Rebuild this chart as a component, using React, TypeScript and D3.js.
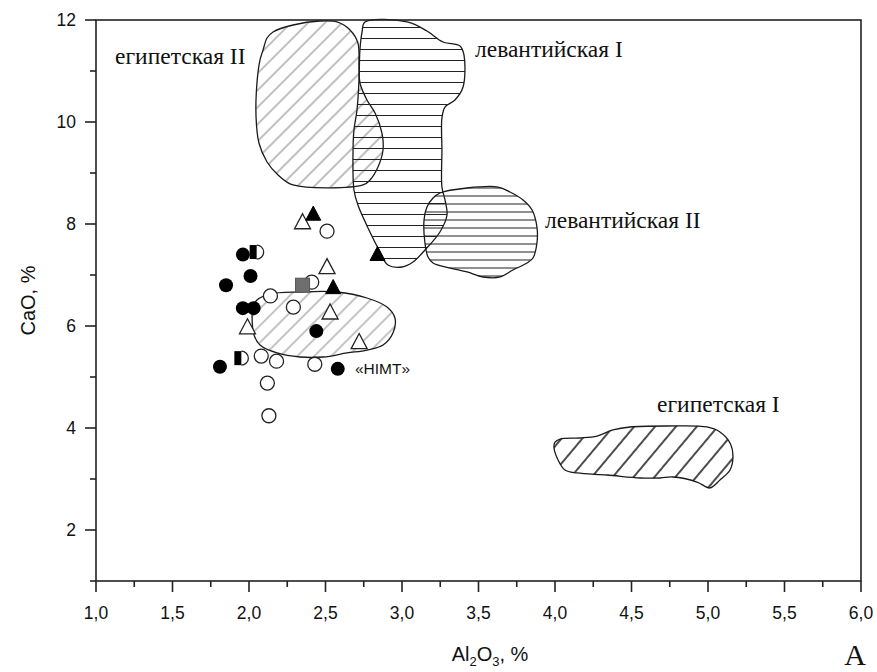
import { useEffect, useRef } from 'react';
import * as d3 from 'd3';

// point groups, [Al2O3, CaO]
const filledCircles = [[1.96, 7.40], [2.01, 6.98], [1.85, 6.80], [1.96, 6.35], [2.03, 6.35], [2.44, 5.90], [1.81, 5.20], [2.58, 5.16]];
const openCircles = [[2.51, 7.86], [2.41, 6.86], [2.14, 6.59], [2.29, 6.37], [2.08, 5.41], [2.18, 5.31], [2.43, 5.25], [2.12, 4.88], [2.13, 4.24]];
const filledTriangles = [[2.42, 8.18], [2.84, 7.39], [2.55, 6.74]];
const openTriangles = [[2.35, 8.02], [2.51, 7.14], [2.53, 6.25], [1.99, 5.96], [2.72, 5.67]];
const graySquares = [[2.35, 6.80]];
const halfMarkers = [[2.05, 7.45], [1.95, 5.37]];

// outlines of the fields
const egyptII = [[2.118, 11.647], [2.157, 11.765], [2.288, 11.902], [2.464, 11.98], [2.575, 11.961], [2.66, 11.804], [2.712, 11.549], [2.719, 11.078], [2.725, 10.765], [2.771, 10.431], [2.824, 10.176], [2.869, 9.784], [2.876, 9.451], [2.843, 9.118], [2.791, 8.863], [2.745, 8.765], [2.288, 8.765], [2.19, 8.961], [2.118, 9.216], [2.065, 9.588], [2.046, 10.098], [2.052, 10.765], [2.072, 11.216], [2.092, 11.412]];
const levantI = [[2.758, 11.961], [3.033, 11.961], [3.163, 11.784], [3.268, 11.569], [3.379, 11.49], [3.405, 11.314], [3.399, 10.686], [3.346, 10.431], [3.281, 10.294], [3.261, 10.078], [3.261, 9.451], [3.261, 8.725], [3.281, 8.471], [3.294, 8.176], [3.248, 7.843], [3.15, 7.49], [3.072, 7.255], [3.0, 7.157], [2.908, 7.196], [2.843, 7.529], [2.778, 7.922], [2.712, 8.373], [2.686, 8.667], [2.68, 9.451], [2.686, 9.843], [2.706, 10.235], [2.719, 10.824], [2.725, 11.412], [2.739, 11.765]];
const levantII = [[3.248, 8.608], [3.425, 8.706], [3.627, 8.725], [3.706, 8.627], [3.791, 8.471], [3.85, 8.275], [3.882, 7.941], [3.882, 7.627], [3.856, 7.333], [3.817, 7.235], [3.725, 7.098], [3.641, 6.961], [3.529, 6.961], [3.425, 7.059], [3.314, 7.137], [3.203, 7.235], [3.17, 7.353], [3.15, 7.627], [3.144, 8.078], [3.163, 8.333], [3.203, 8.51]];
const egyptI = [[4.0, 3.725], [4.033, 3.784], [4.163, 3.804], [4.275, 3.843], [4.379, 3.961], [4.49, 4.02], [4.732, 4.039], [4.993, 4.02], [5.078, 3.922], [5.144, 3.706], [5.163, 3.431], [5.144, 3.176], [5.078, 2.98], [5.013, 2.824], [4.928, 2.941], [4.771, 3.039], [4.686, 3.02], [4.556, 3.02], [4.34, 3.078], [4.144, 3.118], [4.065, 3.176], [4.02, 3.373], [3.993, 3.627]];
const himt = [[2.052, 6.51], [2.137, 6.627], [2.333, 6.667], [2.575, 6.667], [2.771, 6.549], [2.902, 6.373], [2.954, 6.157], [2.941, 5.863], [2.876, 5.627], [2.771, 5.529], [2.641, 5.471], [2.484, 5.392], [2.333, 5.392], [2.183, 5.471], [2.072, 5.627], [2.033, 5.824], [2.02, 6.176], [2.026, 6.373]];

const xMajor = [1, 1.5, 2, 2.5, 3, 3.5, 4, 4.5, 5, 5.5, 6];
const xMinor = [1.25, 1.75, 2.25, 2.75, 3.25, 3.75, 4.25, 4.75, 5.25, 5.75];
const yMajor = [2, 4, 6, 8, 10, 12];
const yMinor = [1, 3, 5, 7, 9, 11];

export default function App() {
  const ref = useRef(null);

  useEffect(() => {
    const svg = d3.select(ref.current);
    svg.selectAll('*').remove();

    const left = 96, right = 861, top = 20, bottom = 581;
    const x = d3.scaleLinear().domain([1, 6]).range([left, right]);
    const y = d3.scaleLinear().domain([1, 12]).range([bottom, top]);

    const defs = svg.append('defs');
    const hatch = (id, angle, gap, color, w) => {
      const p = defs.append('pattern')
        .attr('id', id)
        .attr('patternUnits', 'userSpaceOnUse')
        .attr('width', 40)
        .attr('height', gap)
        .attr('patternTransform', `rotate(${angle})`);
      p.append('line')
        .attr('x1', 0).attr('x2', 40)
        .attr('y1', gap / 2).attr('y2', gap / 2)
        .attr('stroke', color)
        .attr('stroke-width', w);
    };
    hatch('h-egII', -45, 12, '#808080', 1);
    hatch('h-egI', -50, 16, '#111', 1.5);
    hatch('h-himt', -45, 12, '#8a8a8a', 1);
    hatch('h-levI', 0, 11, '#222', 1.1);
    hatch('h-levII', 0, 8, '#222', 1.1);

    const line = d3.line()
      .x(d => x(d[0]))
      .y(d => y(d[1]))
      .curve(d3.curveCatmullRomClosed.alpha(0.5));

    const fields = [
      [egyptII, 'h-egII'],
      [levantI, 'h-levI'],
      [levantII, 'h-levII'],
      [egyptI, 'h-egI'],
      [himt, 'h-himt']
    ];
    fields.forEach(([pts, id]) => {
      svg.append('path')
        .attr('d', line(pts))
        .attr('fill', `url(#${id})`)
        .attr('stroke', '#1a1a1a')
        .attr('stroke-width', 1.3);
    });

    // frame
    svg.append('rect')
      .attr('x', left).attr('y', top)
      .attr('width', right - left).attr('height', bottom - top)
      .attr('fill', 'none')
      .attr('stroke', '#222')
      .attr('stroke-width', 1.6);

    // ticks
    const g = svg.append('g').attr('stroke', '#222').attr('stroke-width', 1.6);
    xMajor.forEach(v => g.append('line').attr('x1', x(v)).attr('x2', x(v)).attr('y1', bottom).attr('y2', bottom + 11));
    xMinor.forEach(v => g.append('line').attr('x1', x(v)).attr('x2', x(v)).attr('y1', bottom).attr('y2', bottom + 6));
    yMajor.forEach(v => g.append('line').attr('x1', left - 11).attr('x2', left).attr('y1', y(v)).attr('y2', y(v)));
    yMinor.forEach(v => g.append('line').attr('x1', left - 6).attr('x2', left).attr('y1', y(v)).attr('y2', y(v)));

    const sans = 'Liberation Sans, Arial, sans-serif';
    const serif = 'Liberation Serif, Times New Roman, serif';

    svg.append('g').selectAll('text').data(xMajor).enter().append('text')
      .attr('x', d => x(d))
      .attr('y', bottom + 38)
      .attr('text-anchor', 'middle')
      .attr('font-family', sans)
      .attr('font-size', 17.5)
      .attr('fill', '#111')
      .text(d => d.toFixed(1).replace('.', ','));

    svg.append('g').selectAll('text').data(yMajor).enter().append('text')
      .attr('x', left - 20)
      .attr('y', d => y(d) + 6)
      .attr('text-anchor', 'end')
      .attr('font-family', sans)
      .attr('font-size', 17.5)
      .attr('fill', '#111')
      .text(d => d);

    // axis titles
    svg.append('text')
      .attr('transform', `translate(35,${(top + bottom) / 2}) rotate(-90)`)
      .attr('text-anchor', 'middle')
      .attr('font-family', sans)
      .attr('font-size', 20)
      .attr('fill', '#111')
      .text('CaO, %');

    const xt = svg.append('text')
      .attr('x', 490)
      .attr('y', 661)
      .attr('text-anchor', 'middle')
      .attr('font-family', sans)
      .attr('font-size', 20)
      .attr('fill', '#111');
    xt.append('tspan').text('Al');
    xt.append('tspan').attr('font-size', 13).attr('dy', 5).text('2');
    xt.append('tspan').attr('dy', -5).text('O');
    xt.append('tspan').attr('font-size', 13).attr('dy', 5).text('3');
    xt.append('tspan').attr('dy', -5).text(', %');

    svg.append('text')
      .attr('x', 855).attr('y', 665)
      .attr('text-anchor', 'middle')
      .attr('font-family', serif)
      .attr('font-size', 30)
      .attr('fill', '#111')
      .text('A');

    // field labels
    const labels = [
      ['египетская II', 115, 64],
      ['левантийская I', 475, 57],
      ['левантийская II', 545, 228],
      ['египетская I', 657, 412]
    ];
    svg.append('g').selectAll('text').data(labels).enter().append('text')
      .attr('x', d => d[1])
      .attr('y', d => d[2])
      .attr('font-family', serif)
      .attr('font-size', 23.5)
      .attr('fill', '#111')
      .text(d => d[0]);

    svg.append('text')
      .attr('x', 355).attr('y', 374)
      .attr('font-family', sans)
      .attr('font-size', 15.5)
      .attr('fill', '#111')
      .text('«HIMT»');

    // markers
    const m = svg.append('g');
    const r = 7;
    const tri = (cx, cy, s) => `M${cx},${cy - s * 0.58}L${cx + s / 2},${cy + s * 0.36}L${cx - s / 2},${cy + s * 0.36}Z`;

    m.selectAll('.oc').data(openCircles).enter().append('circle')
      .attr('cx', d => x(d[0])).attr('cy', d => y(d[1])).attr('r', r)
      .attr('fill', '#fff').attr('stroke', '#222').attr('stroke-width', 1.3);

    m.selectAll('.gs').data(graySquares).enter().append('rect')
      .attr('x', d => x(d[0]) - 7).attr('y', d => y(d[1]) - 7)
      .attr('width', 14).attr('height', 14)
      .attr('fill', '#6e6e6e').attr('stroke', '#555').attr('stroke-width', 1);

    m.selectAll('.ot').data(openTriangles).enter().append('path')
      .attr('d', d => tri(x(d[0]), y(d[1]), 16))
      .attr('fill', '#fff').attr('stroke', '#222').attr('stroke-width', 1.3);

    m.selectAll('.ft').data(filledTriangles).enter().append('path')
      .attr('d', d => tri(x(d[0]), y(d[1]), 15))
      .attr('fill', '#000').attr('stroke', '#000').attr('stroke-width', 1);

    m.selectAll('.fc').data(filledCircles).enter().append('circle')
      .attr('cx', d => x(d[0])).attr('cy', d => y(d[1])).attr('r', r)
      .attr('fill', '#000');

    halfMarkers.forEach(d => {
      const cx = x(d[0]), cy = y(d[1]);
      m.append('path')
        .attr('d', `M${cx},${cy - r}A${r},${r} 0 0 1 ${cx},${cy + r}`)
        .attr('fill', '#fff').attr('stroke', '#222').attr('stroke-width', 1.3);
      m.append('rect')
        .attr('x', cx - r).attr('y', cy - r)
        .attr('width', r).attr('height', 2 * r)
        .attr('fill', '#000');
    });
  }, []);

  return (
    <svg
      ref={ref}
      width={877}
      height={672}
      style={{ position: 'absolute', left: 0, top: 0, background: '#fff' }}
    />
  );
}
